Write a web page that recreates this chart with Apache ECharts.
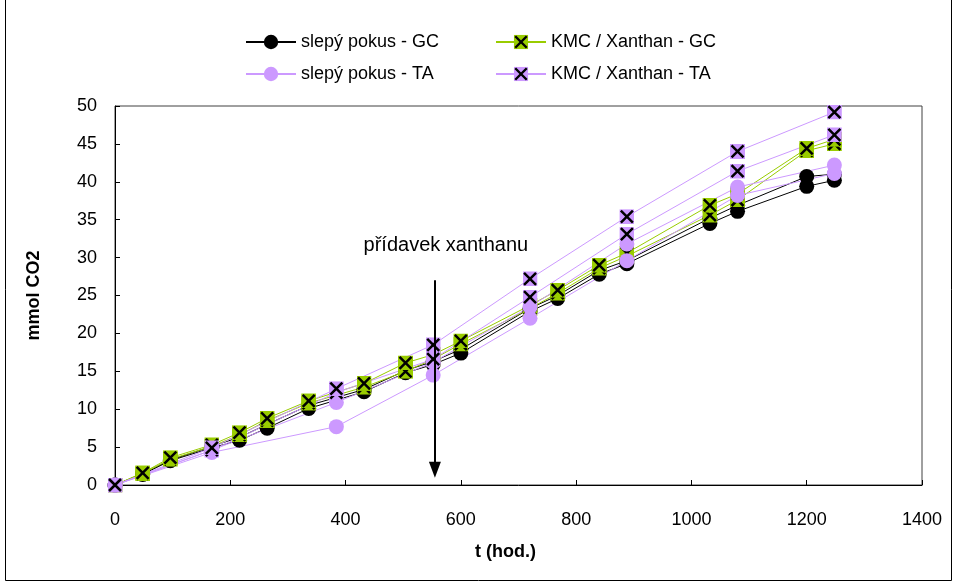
<!DOCTYPE html>
<html><head><meta charset="utf-8">
<script src="https://cdn.jsdelivr.net/npm/echarts@6/dist/echarts.min.js"></script>
<style>html,body{margin:0;padding:0;background:#fff}#c{width:956px;height:588px}</style>
</head><body><div id="c"></div>
<script>
// Time points (hours)
const tGC = [0,48,96,168,216,264,336,432,504,552,600,720,768,840,888,1032,1080,1200,1248];
const tTA = [0,168,384,552,720,888,1080,1248];

// slepý pokus - GC (two replicates)
const blankGC1 = [0,1.4,3.2,4.9,5.9,7.5,10.1,12.3,14.8,15.9,17.4,22.9,24.6,27.8,29.2,34.5,36.1,39.4,40.2];
const blankGC2 = [0,1.5,3.3,5.1,6.3,8.0,10.5,12.6,15.1,16.3,17.9,23.3,25.0,28.3,29.6,35.2,36.9,40.7,41.0];
// KMC / Xanthan - GC
const kmcGC1 = [0,1.5,3.4,5.1,6.6,8.5,10.8,12.9,15.0,16.6,18.6,23.3,25.3,28.6,30.2,35.6,37.6,44.1,45.0];
const kmcGC2 = [0,1.6,3.6,5.3,6.9,8.8,11.1,13.4,16.1,17.2,19.0,23.7,25.7,29.0,30.6,36.9,38.4,44.4,45.6];
// slepý pokus - TA
const blankTA1 = [0,4.3,7.7,14.5,22.0,29.6,38.2,41.1];
const blankTA2 = [0,4.6,10.9,16.2,23.5,31.8,39.3,42.2];
// KMC / Xanthan - TA
const kmcTA1 = [0,4.6,12.2,16.6,24.8,33.1,41.4,46.2];
const kmcTA2 = [0,4.9,12.7,18.5,27.2,35.4,44.0,49.2];

const names = ['slepý pokus - GC','KMC / Xanthan - GC','slepý pokus - TA','KMC / Xanthan - TA'];
const xTicks = [0,200,400,600,800,1000,1200,1400];
const yTicks = [0,5,10,15,20,25,30,35,40,45,50];
const arrowX = 555, arrowTop = 27, arrowBottom = 2;
const noteText = 'přídavek xanthanu', noteX = 574, noteY = 31.6;

const BLACK = '#000000', GREEN = '#99CC00', VIOLET = '#CC99FF';

function zip(t, v){ return t.map((x,i)=>[x, v[i]]); }
function xMarker(fill){
  const svg = "<svg xmlns='http://www.w3.org/2000/svg' width='30' height='30'>" +
    "<rect x='0' y='0' width='30' height='30' fill='" + fill + "'/>" +
    "<path d='M3,3 L27,27 M27,3 L3,27' stroke='black' stroke-width='5'/></svg>";
  return 'image://data:image/svg+xml;charset=utf-8,' + encodeURIComponent(svg);
}

function lineSeries(name, t, v, color, symbol, size){
  return {
    name: name, type: 'line', data: zip(t, v),
    symbol: symbol, symbolSize: size,
    lineStyle: {color: color, width: 1},
    itemStyle: {color: color, borderWidth: 0},
    emphasis: {disabled: true}, animation: false
  };
}

const font = 'Liberation Sans, Arial, sans-serif';
const FS = 18;

const series = [
  lineSeries(names[0], tGC, blankGC1, BLACK, 'circle', 15),
  lineSeries(names[0], tGC, blankGC2, BLACK, 'circle', 15),
  lineSeries(names[1], tGC, kmcGC1, GREEN, xMarker(GREEN), 15),
  lineSeries(names[1], tGC, kmcGC2, GREEN, xMarker(GREEN), 15),
  lineSeries(names[2], tTA, blankTA1, VIOLET, 'circle', 15),
  lineSeries(names[2], tTA, blankTA2, VIOLET, 'circle', 15),
  lineSeries(names[3], tTA, kmcTA1, VIOLET, xMarker(VIOLET), 15),
  lineSeries(names[3], tTA, kmcTA2, VIOLET, xMarker(VIOLET), 15),
  {
    name: 'annotation', type: 'line', data: [], silent: true, animation: false,
    markLine: {
      silent: true, symbol: ['none','triangle'], symbolSize: [12, 16],
      lineStyle: {color: '#000', width: 2, type: 'solid'},
      label: {show: false},
      data: [[{coord: [arrowX, arrowTop]}, {coord: [arrowX, arrowBottom]}]]
    },
    markPoint: {
      silent: true, symbol: 'circle', symbolSize: 0,
      label: {show: true, position: 'inside', formatter: noteText, color: '#000',
              fontFamily: font, fontSize: 20},
      data: [{coord: [noteX, noteY]}]
    }
  }
];

const chart = echarts.init(document.getElementById('c'), null, {renderer: 'canvas'});
chart.setOption({
  backgroundColor: '#fff',
  animation: false,
  grid: {left: 115, right: 34, top: 106, bottom: 103, show: true, borderColor: '#404040', borderWidth: 1},
  legend: [
    {left: 240, top: 28, orient: 'vertical', itemWidth: 50, itemHeight: 18, itemGap: 14,
     data: [names[0], names[2]], selectedMode: false,
     textStyle: {fontFamily: font, fontSize: FS, color: '#000'}},
    {left: 490, top: 28, orient: 'vertical', itemWidth: 50, itemHeight: 18, itemGap: 14,
     data: [names[1], names[3]], selectedMode: false,
     textStyle: {fontFamily: font, fontSize: FS, color: '#000'}}
  ],
  xAxis: {
    type: 'value', min: xTicks[0], max: xTicks[xTicks.length-1], interval: xTicks[1]-xTicks[0],
    name: 't (hod.)', nameLocation: 'middle', nameGap: 58,
    nameTextStyle: {fontFamily: font, fontSize: FS, fontWeight: 'bold', color: '#000', padding: [0, 26, 0, 0]},
    axisLine: {lineStyle: {color: '#000', width: 1}},
    axisTick: {inside: true, length: 5, lineStyle: {color: '#000'}},
    axisLabel: {margin: 26, fontFamily: font, fontSize: FS, color: '#000', formatter: v => String(v)},
    splitLine: {show: false}
  },
  yAxis: {
    type: 'value', min: yTicks[0], max: yTicks[yTicks.length-1], interval: yTicks[1]-yTicks[0],
    name: 'mmol CO2', nameLocation: 'middle', nameGap: 72,
    nameTextStyle: {fontFamily: font, fontSize: FS, fontWeight: 'bold', color: '#000'},
    axisLine: {show: true, lineStyle: {color: '#000', width: 1}},
    axisTick: {show: true, inside: true, length: 5, lineStyle: {color: '#000'}},
    axisLabel: {margin: 18, fontFamily: font, fontSize: FS, color: '#000', formatter: v => String(v)},
    splitLine: {show: false}
  },
  graphic: [{
    type: 'rect', silent: true, z: -1,
    shape: {x: 5.5, y: -2, width: 946, height: 582.5},
    style: {fill: 'none', stroke: '#000', lineWidth: 1}
  }],
  series: series
});
</script></body></html>
